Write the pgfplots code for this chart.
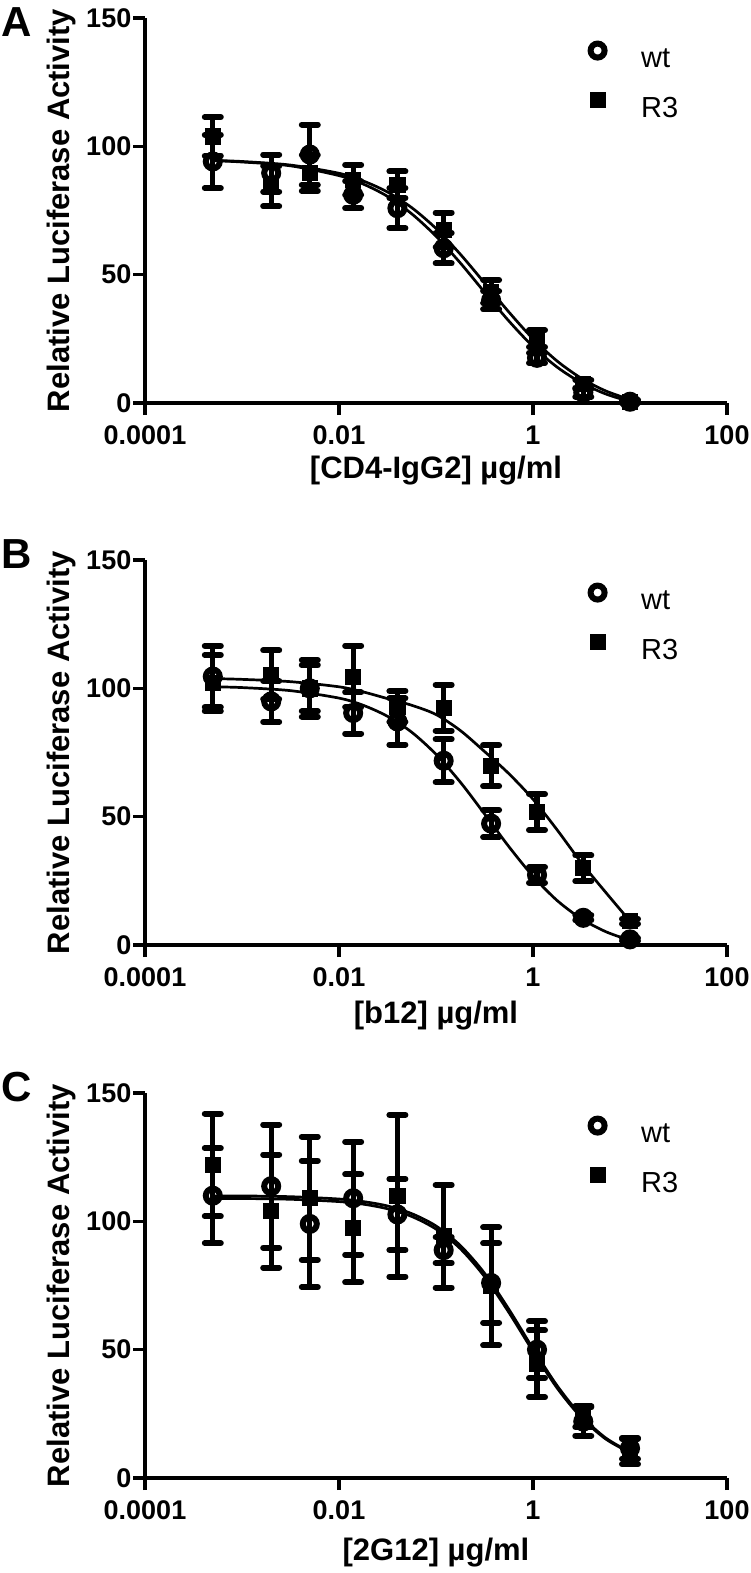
\documentclass[border=0pt]{standalone}
\usepackage{fontspec}
\setmainfont{Liberation Sans}
\usepackage{pgfplots}
\pgfplotsset{compat=1.18}

\newcommand{\tkf}{\fontsize{13.5}{14}\selectfont\bfseries}
\newcommand{\lbf}{\fontsize{15.5}{16}\selectfont\bfseries}
\newcommand{\lgf}{\fontsize{14.5}{15}\selectfont}
\newcommand{\plf}{\fontsize{21}{21}\selectfont\bfseries}

\pgfplotsset{raisedleg/.style={legend image code/.code={\draw[##1] plot coordinates {(0.3cm,4.5pt)};}}}

% tick labels and axis titles, placed at fixed distances from the axis lines
\newcommand{\axtexts}[2]{%
  \node[font=\tkf, inner sep=0pt] at (axis cs:1e-4,0) [yshift=-16.25pt] {0.0001};
  \node[font=\tkf, inner sep=0pt] at (axis cs:1e-2,0) [yshift=-16.25pt] {0.01};
  \node[font=\tkf, inner sep=0pt] at (axis cs:1,0) [yshift=-16.25pt] {1};
  \node[font=\tkf, inner sep=0pt] at (axis cs:100,0) [yshift=-16.25pt] {100};
  \node[font=\tkf, inner sep=0pt, anchor=east] at (axis cs:1e-4,0) [xshift=-6.65pt] {0};
  \node[font=\tkf, inner sep=0pt, anchor=east] at (axis cs:1e-4,50) [xshift=-6.65pt] {50};
  \node[font=\tkf, inner sep=0pt, anchor=east] at (axis cs:1e-4,100) [xshift=-6.65pt] {100};
  \node[font=\tkf, inner sep=0pt, anchor=east] at (axis cs:1e-4,150) [xshift=-6.65pt] {150};
  \node[font=\lbf, inner sep=0pt] at (axis description cs:0.5,0) [yshift=-#2] {#1};
  \node[font=\lbf, inner sep=0pt, rotate=90] at (axis description cs:-0.1443,0.5) {Relative Luciferase Activity};
}

\pgfplotsset{every axis/.append style={
    scale only axis, width=291pt, height=192.5pt,
    xmin=1e-4, xmax=100, ymin=0, ymax=150,
    axis x line=bottom, axis y line=left,
    axis line style={line width=1.65pt, -},
    xtick={1e-4,1e-2,1,100},
    xticklabels={},
    ytick={0,50,100,150},
    yticklabels={},
    xminorticks=false, yminorticks=false,
    tick align=outside, major tick length=6pt,
    tick style={line width=1.6pt, black},
    clip=false,
    legend style={draw=none, fill=none, at={(0.7536,0.945)}, anchor=north west,
      font=\lgf, row sep=11.1pt, column sep=18pt, nodes={inner sep=0pt}},
    legend cell align=left,
    error bars/y dir=both, error bars/y explicit,
    error bars/error bar style={line width=2.6pt},
    error bars/error mark options={rotate=90, mark size=4pt, line width=3pt, line cap=round},
  }}

\begin{document}
\begin{tikzpicture}
\useasboundingbox (0pt,0pt) rectangle (375pt,-786.5pt);

% ---------------- Panel A ----------------
\begin{axis}[xmode=log, at={(72.5pt,-201.5pt)}, anchor=south west]
\addplot[black, line width=1.35pt, smooth, no marks, forget plot] table[row sep=\\]{x y\\
0.000501 94.4\\ 0.001 93.9\\ 0.003162 92.4\\ 0.01 88.6\\ 0.01778 85.3\\ 0.03162 80.5\\
0.05623 73.7\\ 0.1 65.0\\ 0.1778 54.6\\ 0.3162 43.2\\ 0.5623 32.0\\ 1 22.0\\
1.778 13.95\\ 3.162 7.86\\ 5.623 3.52\\ 10 0.55\\};
\addplot[black, line width=1.35pt, smooth, no marks, forget plot] table[row sep=\\]{x y\\
0.000501 94.5\\ 0.001 94.1\\ 0.003162 92.7\\ 0.01 89.5\\ 0.01778 86.5\\ 0.03162 82.2\\
0.05623 76.1\\ 0.1 68.0\\ 0.1778 58.0\\ 0.3162 46.8\\ 0.5623 35.5\\ 1 25.0\\
1.778 16.3\\ 3.162 9.6\\ 5.623 4.7\\ 10 1.36\\};
\addplot[black, only marks, mark=o, mark size=3.5pt, mark options={line width=3pt}, raisedleg]
 table[x=x, y=y, y error=e, row sep=\\]{x y e\\
0.0005 94.1 10.4\\ 0.002 89.6 7.2\\ 0.005 96.8 11.7\\ 0.014 81.1 5.2\\ 0.04 75.9 7.8\\
0.12 60.3 5.9\\ 0.37 40.0 3.5\\ 1.1 17.6 2.0\\ 3.3 4.0 1.5\\ 10 0.5 0.5\\};
\addplot[black, only marks, mark=square*, mark size=3.8pt, raisedleg]
 table[x=x, y=y, y error=e, row sep=\\]{x y e\\
0.0005 103.9 7.5\\ 0.002 84.4 7.8\\ 0.005 89.6 7.0\\ 0.014 87.0 5.8\\ 0.04 85.0 5.2\\
0.12 67.4 6.8\\ 0.37 43.4 4.5\\ 1.1 25.1 3.3\\ 3.3 7.5 1.5\\ 10 0.5 0.5\\};
\legend{wt,R3}
\axtexts{[CD4-IgG2] µg/ml}{34pt}
\end{axis}

% ---------------- Panel B ----------------
\begin{axis}[xmode=log, at={(72.5pt,-472.5pt)}, anchor=south west]
\addplot[black, line width=1.35pt, smooth, no marks, forget plot] table[row sep=\\]{x y\\
0.000501 100.6\\ 0.001 100.3\\ 0.003162 99.1\\ 0.01 96.2\\ 0.01778 93.4\\ 0.03162 89.1\\
0.05623 82.9\\ 0.1 74.3\\ 0.1778 63.5\\ 0.3162 51.1\\ 0.5623 38.4\\ 1 26.8\\
1.778 17.3\\ 3.162 10.2\\ 5.623 5.2\\ 10 1.8\\};
\addplot[black, line width=1.35pt, smooth, no marks, forget plot] table[row sep=\\]{x y\\
0.000501 103.8\\ 0.001 103.5\\ 0.003162 102.6\\ 0.01 100.6\\ 0.01778 98.6\\ 0.03162 96.0\\
0.05623 93.4\\ 0.1 89.8\\ 0.1778 83.6\\ 0.3162 75.4\\ 0.5623 66.8\\ 1 56.8\\
1.778 44.8\\ 3.162 32.0\\ 5.623 20.5\\ 10 9.3\\};
\addplot[black, only marks, mark=o, mark size=3.5pt, mark options={line width=3pt}, raisedleg]
 table[x=x, y=y, y error=e, row sep=\\]{x y e\\
0.0005 104.6 12.0\\ 0.002 94.9 8.0\\ 0.005 100.0 9.0\\ 0.014 90.4 8.0\\ 0.04 87.1 9.0\\
0.12 71.8 8.4\\ 0.37 47.3 5.3\\ 1.1 27.3 3.0\\ 3.3 10.6 1.0\\ 10 2.2 0.5\\};
\addplot[black, only marks, mark=square*, mark size=3.8pt, raisedleg]
 table[x=x, y=y, y error=e, row sep=\\]{x y e\\
0.0005 102.0 11.0\\ 0.002 105.3 9.5\\ 0.005 100.0 11.0\\ 0.014 104.6 12.0\\ 0.04 93.0 6.0\\
0.12 92.4 9.0\\ 0.37 69.9 8.0\\ 1.1 51.8 7.0\\ 3.3 29.9 5.0\\ 10 9.3 1.0\\};
\legend{wt,R3}
\axtexts{[b12] µg/ml}{35.5pt}
\end{axis}

% ---------------- Panel C ----------------
\begin{axis}[xmode=log, at={(72.5pt,-739pt)}, anchor=south west]
\addplot[black, line width=1.35pt, smooth, no marks, forget plot] table[row sep=\\]{x y\\
0.000501 109.9\\ 0.001 109.9\\ 0.003162 109.6\\ 0.01 108.7\\ 0.01778 107.7\\ 0.03162 106.0\\
0.05623 103.0\\ 0.1 98.2\\ 0.1778 90.6\\ 0.3162 79.8\\ 0.5623 65.8\\ 1 50.4\\
1.778 35.9\\ 3.162 24.1\\ 5.623 15.6\\ 10 10.1\\};
\addplot[black, line width=1.35pt, smooth, no marks, forget plot] table[row sep=\\]{x y\\
0.000501 108.9\\ 0.001 108.9\\ 0.003162 108.6\\ 0.01 107.7\\ 0.01778 106.7\\ 0.03162 104.9\\
0.05623 101.9\\ 0.1 97.0\\ 0.1778 89.4\\ 0.3162 78.5\\ 0.5623 64.6\\ 1 49.4\\
1.778 35.0\\ 3.162 23.5\\ 5.623 15.2\\ 10 9.9\\};
\addplot[black, only marks, mark=o, mark size=3.5pt, mark options={line width=3pt}, raisedleg]
 table[x=x, y=y, y error=e, row sep=\\]{x y e\\
0.0005 110.0 18.5\\ 0.002 113.7 24.0\\ 0.005 99.0 24.6\\ 0.014 109.0 22.0\\ 0.04 102.7 13.8\\
0.12 88.8 5.0\\ 0.37 76.0 15.5\\ 1.1 50.0 11.0\\ 3.3 22.0 5.5\\ 10 11.6 4.0\\};
\addplot[black, only marks, mark=square*, mark size=3.8pt, raisedleg]
 table[x=x, y=y, y error=e, row sep=\\]{x y e\\
0.0005 122.0 20.0\\ 0.002 104.0 22.0\\ 0.005 109.0 24.0\\ 0.014 97.3 21.0\\ 0.04 110.0 31.5\\
0.12 94.2 20.0\\ 0.37 74.7 23.0\\ 1.1 44.5 13.0\\ 3.3 24.0 4.0\\ 10 10.3 5.0\\};
\legend{wt,R3}
\axtexts{[2G12] µg/ml}{37.5pt}
\end{axis}

\node[font=\plf] at (8.25pt,-11pt) {A};
\node[font=\plf] at (8.25pt,-277pt) {B};
\node[font=\plf] at (8.25pt,-543.5pt) {C};
\end{tikzpicture}
\end{document}
